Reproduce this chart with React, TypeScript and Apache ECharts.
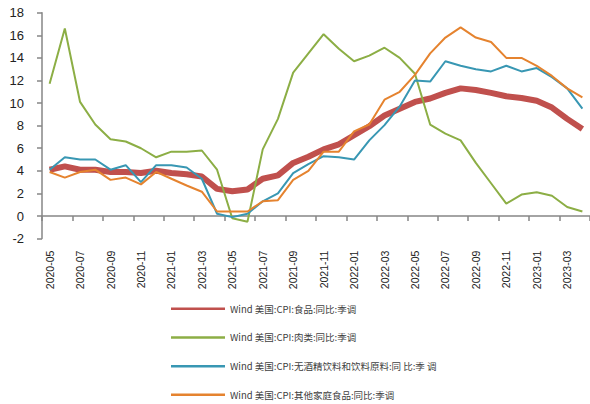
import React, { useEffect, useRef } from "react";
import * as echarts from "echarts";

const categories = [
  "2020-05", "2020-06", "2020-07", "2020-08", "2020-09", "2020-10", "2020-11", "2020-12",
  "2021-01", "2021-02", "2021-03", "2021-04", "2021-05", "2021-06", "2021-07", "2021-08",
  "2021-09", "2021-10", "2021-11", "2021-12", "2022-01", "2022-02", "2022-03", "2022-04",
  "2022-05", "2022-06", "2022-07", "2022-08", "2022-09", "2022-10", "2022-11", "2022-12",
  "2023-01", "2023-02", "2023-03", "2023-04",
];

const seriesNames = [
  "Wind 美国:CPI:食品:同比:季调",
  "Wind 美国:CPI:肉类:同比:季调",
  "Wind 美国:CPI:无酒精饮料和饮料原料:同 比:季 调",
  "Wind 美国:CPI:其他家庭食品:同比:季调",
];

const food = [4.1, 4.4, 4.1, 4.1, 3.9, 3.9, 3.8, 4.0, 3.8, 3.7, 3.5, 2.4, 2.2, 2.35, 3.3, 3.6, 4.7, 5.25, 5.9, 6.35, 7.15, 7.95, 8.9, 9.5, 10.1, 10.4, 10.9, 11.3, 11.15, 10.9, 10.6, 10.45, 10.2, 9.6, 8.6, 7.7];
const meat = [11.7, 16.6, 10.1, 8.1, 6.8, 6.6, 6.0, 5.2, 5.7, 5.7, 5.8, 4.1, -0.2, -0.5, 5.9, 8.6, 12.7, 14.4, 16.1, 14.8, 13.7, 14.2, 14.9, 14.0, 12.6, 8.1, 7.3, 6.7, 4.7, 2.9, 1.1, 1.9, 2.1, 1.8, 0.8, 0.4];
const beverages = [4.1, 5.2, 5.0, 5.0, 4.1, 4.5, 3.0, 4.5, 4.5, 4.3, 3.3, 0.2, -0.1, 0.2, 1.3, 2.0, 3.8, 4.6, 5.3, 5.2, 5.0, 6.7, 8.05, 9.7, 12.0, 11.9, 13.7, 13.3, 13.0, 12.8, 13.3, 12.8, 13.1, 12.3, 11.3, 9.5];
const otherFood = [3.9, 3.4, 3.9, 4.1, 3.2, 3.4, 2.8, 3.9, 3.3, 2.7, 2.15, 0.4, 0.4, 0.4, 1.3, 1.4, 3.2, 4.0, 5.7, 5.7, 7.5, 8.1, 10.3, 11.0, 12.5, 14.4, 15.8, 16.7, 15.8, 15.4, 14.0, 14.0, 13.3, 12.4, 11.3, 10.5];

const colors = ["#C0504D", "#8CAE45", "#3897B3", "#E5832F"];
const widths = [6, 2, 2, 2];
const allData = [food, meat, beverages, otherFood];

export default function App() {
  const ref = useRef<HTMLDivElement>(null);
  useEffect(() => {
    if (!ref.current) return;
    const chart = echarts.init(ref.current, undefined, { renderer: "svg" });
    chart.setOption({
      animation: false,
      backgroundColor: "#ffffff",
      grid: { left: 42, right: -4, top: 12.7, bottom: 165.4 },
      legend: {
        orient: "vertical",
        left: 171,
        top: 304,
        padding: 0,
        itemWidth: 54,
        itemHeight: 14,
        itemGap: 19.2,
        icon: "path://M0,6 L54,6 L54,8.5 L0,8.5 Z",
        textStyle: { fontSize: 9.5, color: "#404040", fontFamily: "Noto Sans CJK SC" },
        data: seriesNames,
      },
      xAxis: {
        type: "category",
        data: categories,
        boundaryGap: true,
        axisLine: { onZero: true, lineStyle: { color: "#868686", width: 1.5 } },
        axisTick: { show: true, interval: 1, length: 5, lineStyle: { color: "#868686", width: 1.5 } },
        axisLabel: {
          interval: 1,
          rotate: 90,
          margin: 12,
          fontSize: 10.5,
          color: "#222222",
          fontFamily: "Liberation Sans",
        },
        splitLine: { show: false },
      },
      yAxis: {
        type: "value",
        min: -2,
        max: 18,
        interval: 2,
        axisLine: { show: true, lineStyle: { color: "#868686", width: 1.5 } },
        axisTick: { show: true, length: 5, lineStyle: { color: "#868686", width: 1.5 } },
        axisLabel: { fontSize: 13, color: "#222222", margin: 18, fontFamily: "Liberation Sans" },
        splitLine: { show: false },
      },
      series: allData.map((d, i) => ({
        name: seriesNames[i],
        type: "line",
        data: d,
        symbol: "none",
        color: colors[i],
        lineStyle: { color: colors[i], width: widths[i] },
        itemStyle: { color: colors[i] },
      })),
    });
    return () => chart.dispose();
  }, []);
  return (
    <div
      ref={ref}
      style={{ position: "absolute", left: 0, top: 0, width: 590, height: 404 }}
    />
  );
}
